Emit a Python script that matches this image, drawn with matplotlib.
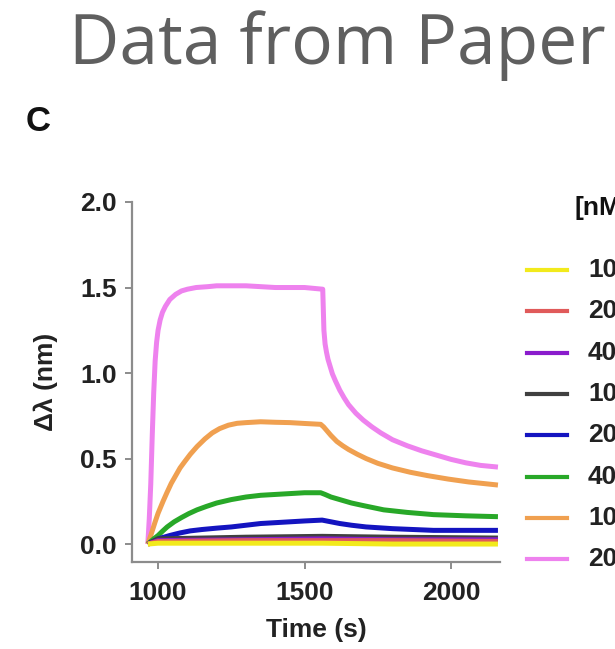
import matplotlib
matplotlib.use('Agg')
import matplotlib.pyplot as plt
from matplotlib.lines import Line2D

# concentrations (nM) and colours, same order as the legend
conc_labels = ['10', '20', '40', '100', '200', '400', '1000', '2000']
colors = ['#f2ea1c', '#e05a5a', '#8a1ccc', '#404040', '#1414c0', '#28a828', '#f0a050', '#ee82ee']

# binding curves: time (s) and shift (nm)
t_10 = [965, 1000, 1300, 1560, 1800, 2160]
v_10 = [0.0, 0.005, 0.005, 0.005, 0.0, 0.0]
t_20 = [965, 1000, 1300, 1560, 1800, 2160]
v_20 = [0.0, 0.015, 0.02, 0.02, 0.02, 0.015]
t_40 = [965, 1000, 1300, 1560, 1800, 2160]
v_40 = [0.0, 0.02, 0.025, 0.03, 0.025, 0.025]
t_100 = [965, 1000, 1300, 1560, 1800, 2160]
v_100 = [0.0, 0.03, 0.04, 0.045, 0.04, 0.035]
t_200 = [965, 1000, 1040, 1075, 1110, 1150, 1200, 1250, 1300, 1350, 1400, 1450, 1500,
         1560, 1590, 1620, 1660, 1710, 1800, 1870, 1940, 2160]
v_200 = [0.0, 0.03, 0.05, 0.065, 0.077, 0.085, 0.093, 0.10, 0.11, 0.12, 0.125, 0.13, 0.135,
         0.14, 0.13, 0.12, 0.11, 0.10, 0.09, 0.085, 0.08, 0.08]
t_400 = [965, 985, 1000, 1015, 1031, 1055, 1080, 1105, 1133, 1165, 1200, 1250, 1300, 1350,
         1400, 1450, 1500, 1555, 1570, 1590, 1620, 1660, 1700, 1770, 1850, 1940, 2050, 2160]
v_400 = [0.0, 0.03, 0.05, 0.075, 0.10, 0.13, 0.155, 0.178, 0.20, 0.22, 0.24, 0.26, 0.275, 0.285,
         0.29, 0.295, 0.30, 0.30, 0.29, 0.275, 0.26, 0.24, 0.225, 0.20, 0.185, 0.172, 0.165, 0.16]
t_1000 = [965, 975, 990, 1000, 1017, 1030, 1045, 1060, 1075, 1090, 1110, 1133, 1160, 1185,
          1210, 1240, 1270, 1300, 1350, 1400, 1450, 1500, 1555, 1565, 1575, 1590, 1610, 1630,
          1650, 1680, 1710, 1750, 1800, 1860, 1920, 1990, 2060, 2160]
v_1000 = [0.0, 0.05, 0.13, 0.18, 0.25, 0.30, 0.355, 0.40, 0.445, 0.48, 0.525, 0.57, 0.615, 0.65,
          0.675, 0.695, 0.706, 0.71, 0.715, 0.712, 0.71, 0.705, 0.70, 0.685, 0.665, 0.635, 0.60, 0.575,
          0.553, 0.525, 0.50, 0.472, 0.445, 0.42, 0.40, 0.38, 0.363, 0.345]
t_2000 = [965, 970, 975, 980, 985, 990, 995, 1000, 1007, 1015, 1025, 1040, 1060, 1080, 1100,
          1130, 1170, 1200, 1300, 1400, 1500, 1562, 1566, 1570, 1575, 1580, 1587, 1595, 1605,
          1620, 1635, 1650, 1675, 1700, 1730, 1760, 1800, 1850, 1900, 1950, 2000, 2050, 2100, 2160]
v_2000 = [0.0, 0.15, 0.35, 0.63, 0.88, 1.07, 1.18, 1.25, 1.31, 1.355, 1.39, 1.43, 1.46, 1.48, 1.49,
          1.50, 1.505, 1.51, 1.51, 1.50, 1.50, 1.49, 1.25, 1.17, 1.12, 1.08, 1.04, 0.995, 0.955,
          0.90, 0.855, 0.815, 0.765, 0.725, 0.685, 0.65, 0.61, 0.575, 0.545, 0.52, 0.495, 0.475,
          0.46, 0.45]

times = [t_10, t_20, t_40, t_100, t_200, t_400, t_1000, t_2000]
values = [v_10, v_20, v_40, v_100, v_200, v_400, v_1000, v_2000]

W, H = 615, 649
fig = plt.figure(figsize=(W / 100, H / 100), dpi=100)
fig.patch.set_facecolor('white')


def fx(px):
    return px / W


def fy(py):
    return 1 - py / H


ax = fig.add_axes([fx(132), fy(562), fx(500) - fx(132), fy(202) - fy(562)])

# highest concentration drawn first so the low ones sit on top
for t, v, c in reversed(list(zip(times, values, colors))):
    ax.plot(t, v, color=c, linewidth=3.6, solid_capstyle='butt', solid_joinstyle='round')

ax.set_xlim(911, 2167)
ax.set_ylim(-0.105, 2.0)
ax.set_xticks([1000, 1500, 2000])
ax.set_yticks([0.0, 0.5, 1.0, 1.5, 2.0])
ax.set_yticklabels(['0.0', '0.5', '1.0', '1.5', '2.0'])

for side in ['top', 'right']:
    ax.spines[side].set_visible(False)
for side in ['left', 'bottom']:
    ax.spines[side].set_color('#8c8c8c')
    ax.spines[side].set_linewidth(1.6)

font = 'Liberation Sans'
ax.tick_params(axis='both', colors='#8c8c8c', length=5, width=1.4,
               labelsize=19, labelcolor='#222222')
ax.tick_params(axis='x', pad=9)
ax.tick_params(axis='y', pad=6)
for lab in ax.get_xticklabels() + ax.get_yticklabels():
    lab.set_fontfamily(font)
    lab.set_fontweight('bold')

ax.set_xlabel('Time (s)', fontsize=19, fontweight='bold', family=font, color='#222222', labelpad=9)
ax.set_ylabel('Δλ (nm)', fontsize=19, fontweight='bold', family=font, color='#222222', labelpad=16)

# legend, drawn by hand so it runs off the right edge
fig.text(fx(575), fy(208), '[nM]', fontsize=19, fontweight='bold', family=font,
         color='#111111', va='center', ha='left')
for i, (lab, c) in enumerate(zip(conc_labels, colors)):
    yy = fy(270 + i * 41.3)
    fig.add_artist(Line2D([fx(527), fx(567)], [yy, yy], color=c, linewidth=3,
                          transform=fig.transFigure))
    fig.text(fx(588), yy, lab, fontsize=19, fontweight='bold', family=font,
             color='#222222', va='center', ha='left')

# panel letter and heading
fig.text(fx(26), fy(131), 'C', fontsize=25, fontweight='bold', family=font,
         color='#111111', va='baseline', ha='left')
fig.text(fx(337), fy(64), 'Data from Paper', fontsize=50, family='Open Sans',
         color='#5f5f5f', va='baseline', ha='center')

fig.savefig('out.png', dpi=100)
